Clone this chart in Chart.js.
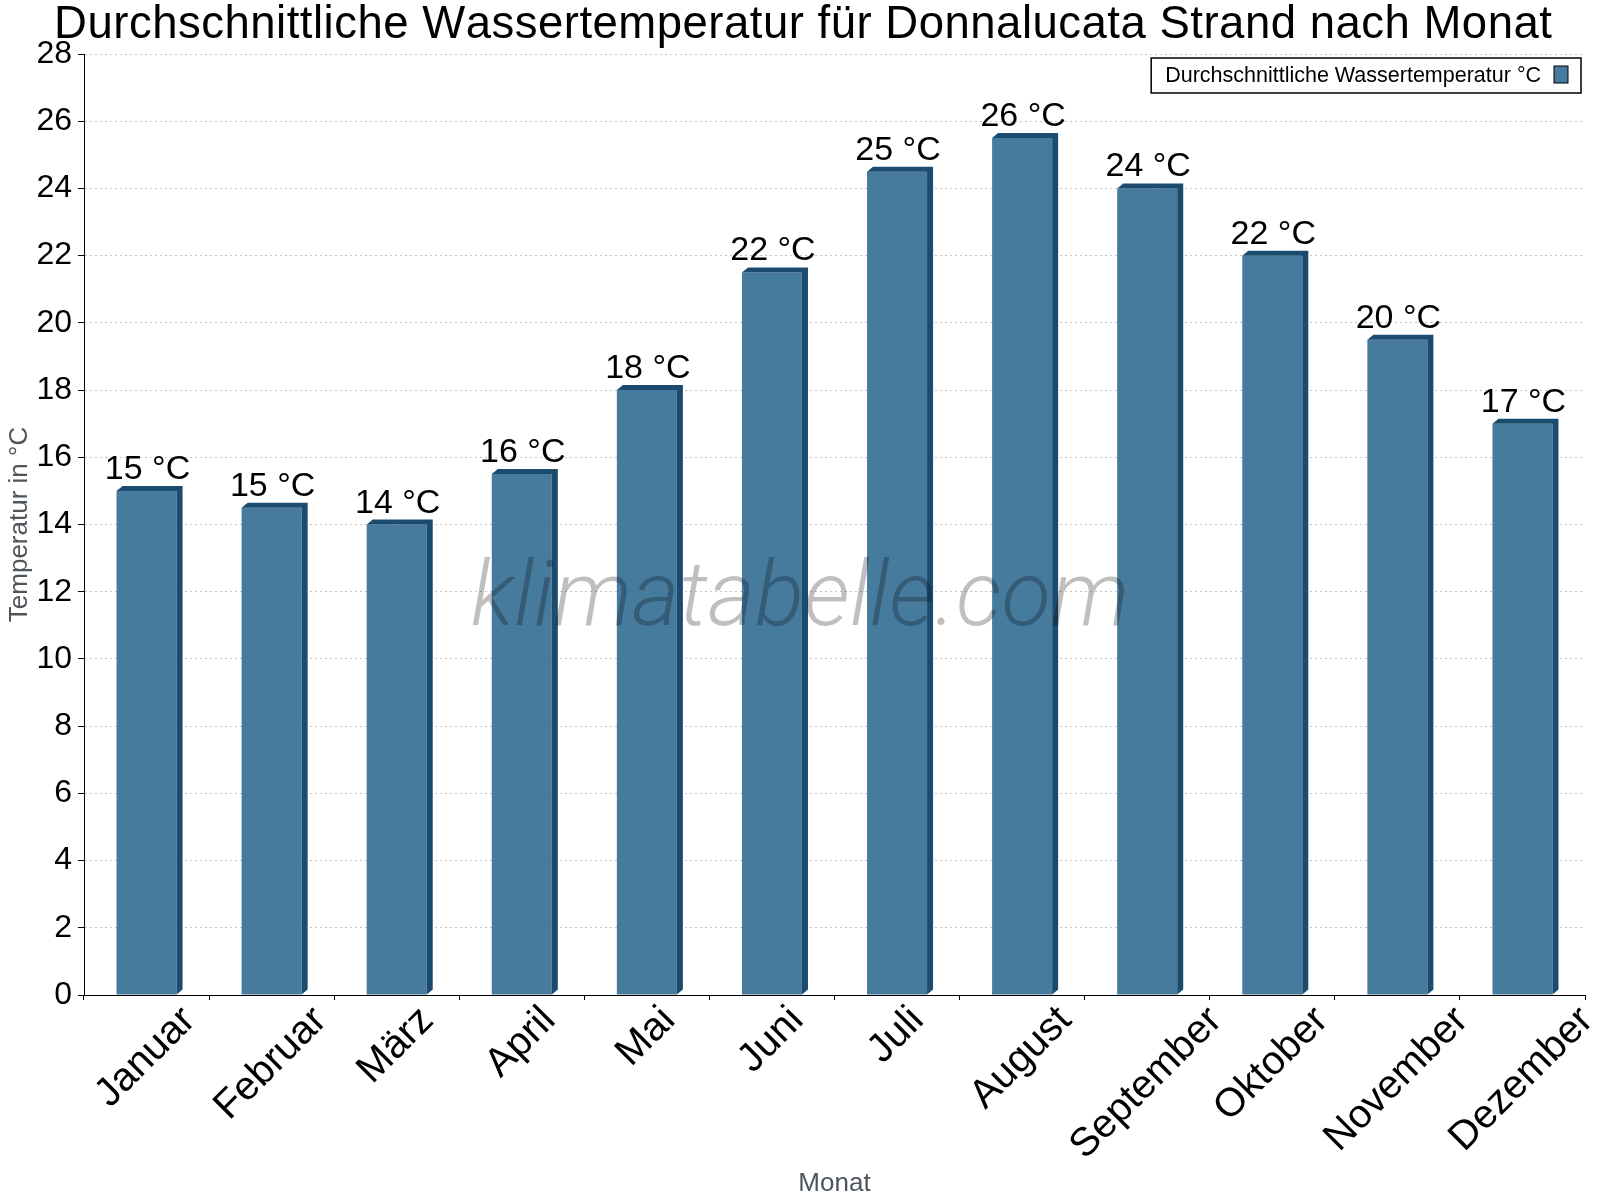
<!DOCTYPE html>
<html lang="de">
<head>
<meta charset="utf-8">
<title>Wassertemperatur Donnalucata Strand</title>
<script src="https://cdn.jsdelivr.net/npm/chart.js@4"></script>
<style>
html,body{margin:0;padding:0;background:#fff;}
#wrap{width:1600px;height:1200px;}
</style>
</head>
<body>
<div id="wrap"><canvas id="chart" width="1600" height="1200"></canvas></div>
<script>
const months = ['Januar','Februar','März','April','Mai','Juni','Juli','August','September','Oktober','November','Dezember'];
const waterTemp = [15, 14.5, 14, 15.5, 18, 21.5, 24.5, 25.5, 24, 22, 19.5, 17];
const seriesName = 'Durchschnittliche Wassertemperatur °C';
const chartTitle = 'Durchschnittliche Wassertemperatur für Donnalucata Strand nach Monat';
const yAxisTitle = 'Temperatur in °C';
const xAxisTitle = 'Monat';
const watermark = 'klimatabelle.com';
const yMin = 0, yMax = 28, yStep = 2;

const FONT = '"Liberation Sans", Arial, sans-serif';
const FRONT = '#467b9e', DARK = '#1b4b6e';
const DX = 6, DY = 5;

// title is set a touch looser than canvas does by default
function drawSpaced(ctx, text, x, y, sp){
  let w = -sp;
  for (const ch of text) w += ctx.measureText(ch).width + sp;
  let cx = x - w/2;
  ctx.save();
  ctx.textAlign = 'left';
  for (const ch of text){
    ctx.fillText(ch, cx, y);
    cx += ctx.measureText(ch).width + sp;
  }
  ctx.restore();
}

const bar3d = {
  id: 'bar3d',
  afterDatasetsDraw(chart){
    const ctx = chart.ctx;
    const bars = chart.getDatasetMeta(0).data;
    ctx.save();
    // side + top faces
    ctx.fillStyle = DARK;
    bars.forEach(b => {
      const {x, y, base, width} = b.getProps(['x','y','base','width'], true);
      const l = x - width/2, r = x + width/2;
      ctx.beginPath();
      ctx.moveTo(l, y); ctx.lineTo(l+DX, y-DY); ctx.lineTo(r+DX, y-DY);
      ctx.lineTo(r+DX, base-DY); ctx.lineTo(r, base); ctx.lineTo(r, y);
      ctx.closePath(); ctx.fill();
    });

    ctx.font = 'italic 300 91px Roboto, "Open Sans", sans-serif';
    ctx.fillStyle = 'rgba(0,0,0,0.25)';
    ctx.textAlign = 'center'; ctx.textBaseline = 'alphabetic';
    ctx.fillText(watermark, chart.width/2, 625);

    // value labels
    ctx.font = '34px ' + FONT;
    ctx.fillStyle = '#000';
    bars.forEach((b, i) => {
      const {x, y} = b.getProps(['x','y'], true);
      ctx.fillText(Math.round(waterTemp[i]) + ' °C', x + 1, y - 12);
    });
    ctx.restore();
  },
  afterDraw(chart){
    const ctx = chart.ctx, xs = chart.scales.x, area = chart.chartArea;
    ctx.save();
    ctx.fillStyle = '#000';
    ctx.textBaseline = 'alphabetic';

    ctx.font = '45.5px ' + FONT;
    drawSpaced(ctx, chartTitle, chart.width/2 + 3, 38, 0.5);

    // rotated month labels
    ctx.font = '40px ' + FONT;
    ctx.textAlign = 'right';
    months.forEach((m, i) => {
      const cx = xs.getPixelForValue(i);
      const w = ctx.measureText(m).width;
      ctx.save();
      ctx.translate(cx + 0.354*w + 7, xs.top + 27);
      ctx.rotate(-Math.PI/4);
      ctx.fillText(m, 0, 0);
      ctx.restore();
    });

    // legend box, swatch on the right
    ctx.font = '21.5px ' + FONT;
    const tw = ctx.measureText(seriesName).width;
    const right = area.right - 4, top = area.top + 4, h = 35;
    const swR = right - 13, swL = swR - 14;
    const txR = swL - 13, left = txR - tw - 14;
    ctx.fillStyle = '#fff';
    ctx.fillRect(left, top, right-left, h);
    ctx.strokeStyle = '#000'; ctx.lineWidth = 1.5;
    ctx.strokeRect(left, top, right-left, h);
    ctx.fillStyle = FRONT;
    ctx.fillRect(swL, top + 8, 14, 17);
    ctx.lineWidth = 1;
    ctx.strokeRect(swL, top + 8, 14, 17);
    ctx.fillStyle = '#000';
    ctx.textAlign = 'right';
    ctx.fillText(seriesName, txR, top + 24);
    ctx.restore();
  }
};

new Chart(document.getElementById('chart'), {
  type: 'bar',
  data: {
    labels: months,
    datasets: [{
      label: seriesName,
      data: waterTemp,
      backgroundColor: FRONT,
      borderWidth: 0,
      barPercentage: 0.48,
      categoryPercentage: 1
    }]
  },
  options: {
    responsive: false,
    animation: false,
    devicePixelRatio: 1,
    layout: { padding: { left: 0, right: 15, top: 54, bottom: 0 } },
    plugins: {
      legend: { display: false },
      tooltip: { enabled: false },
      title: { display: false }
    },
    scales: {
      x: {
        ticks: { display: false },
        grid: { display: true, drawOnChartArea: false, offset: true, tickLength: 5, color: '#000', tickColor: '#000' },
        border: { color: '#000', width: 1 },
        title: { display: true, text: xAxisTitle, color: '#4e555c', font: { family: FONT, size: 26 }, padding: { top: 0, bottom: 1 } },
        afterFit(s){ s.height = 205; }
      },
      y: {
        min: yMin, max: yMax,
        ticks: { stepSize: yStep, color: '#000', padding: 6, font: { family: FONT, size: 32 } },
        grid: { color: '#c4c4c4', lineWidth: 1, tickLength: 6, tickColor: '#000', tickBorderDash: [] },
        border: { color: '#000', width: 1, dash: [2, 3] },
        title: { display: true, text: yAxisTitle, color: '#4e555c', font: { family: FONT, size: 26 }, padding: { top: 4, bottom: 0 } },
        afterFit(s){ s.width = 84; }
      }
    }
  },
  plugins: [bar3d]
});
</script>
</body>
</html>
